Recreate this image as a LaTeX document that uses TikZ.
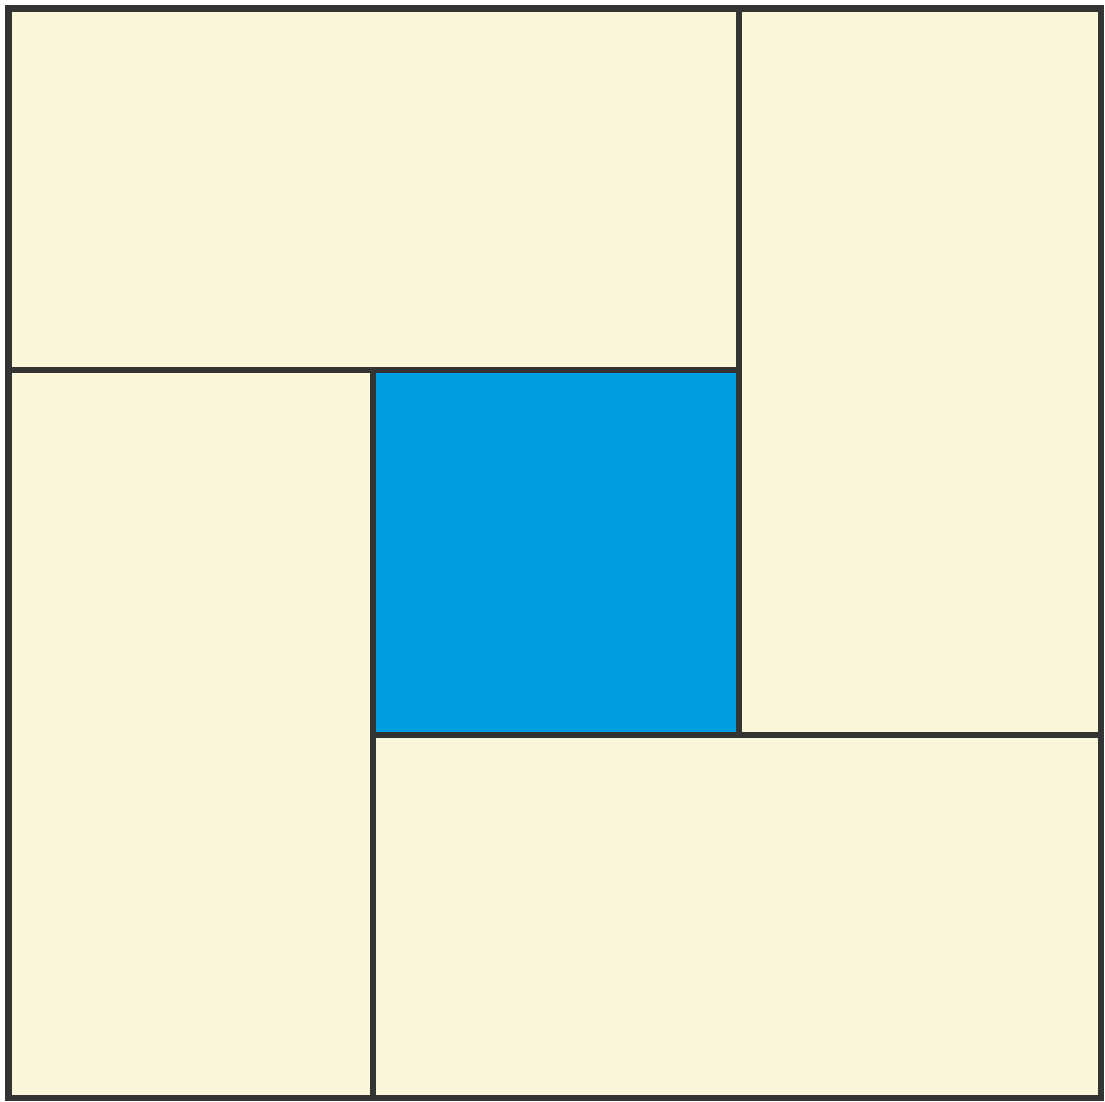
\documentclass[tikz,border=0pt]{standalone}
\definecolor{cream}{HTML}{FAF6D9}
\definecolor{skyblue}{HTML}{009FE2}
\definecolor{edge}{HTML}{333333}
\begin{document}
\begin{tikzpicture}[x=1pt,y=-1pt,
  panel/.style={fill=cream,draw=edge,line width=6.5pt,line join=miter},
  core/.style={fill=skyblue,draw=edge,line width=6.5pt,line join=miter}]
\useasboundingbox (0,0) rectangle (1105,1102);
\fill[white] (0,0) rectangle (1105,1102);
% top
\draw[panel] (8.5,8.5) rectangle (739,370);
% right
\draw[panel] (739,8.5) rectangle (1101,735);
% bottom
\draw[panel] (373,735) rectangle (1101,1098);
% left
\draw[panel] (8.5,370) rectangle (373,1098);
% centre
\draw[core] (373,370) rectangle (739,735);
\end{tikzpicture}
\end{document}
